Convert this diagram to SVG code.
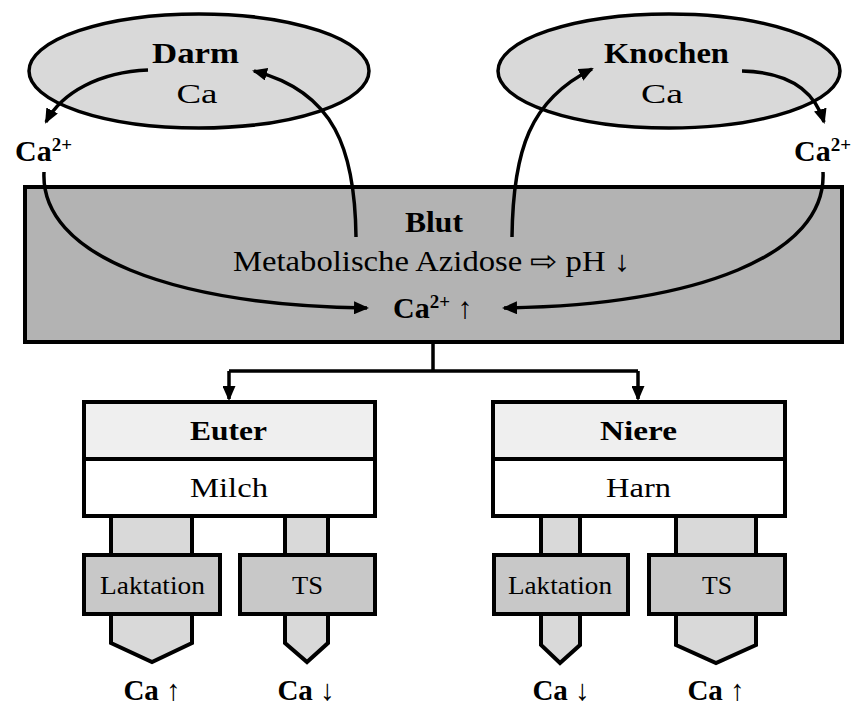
<svg xmlns="http://www.w3.org/2000/svg" width="857" height="705" viewBox="0 0 857 705">
<style>
text{font-family:"Liberation Serif",Tinos,"Times New Roman",Times,serif;fill:#000}
.b{font-weight:bold}
.c{text-anchor:middle}
.ell{fill:#d9d9d9;stroke:#000;stroke-width:3.5}
.box{stroke:#000;stroke-width:4}
.stem{fill:#d9d9d9;stroke:#000;stroke-width:4;stroke-linejoin:miter}
.lab{fill:#c8c8c8;stroke:#000;stroke-width:4}
.con{fill:none;stroke:#000;stroke-width:3.5}
.tree{fill:none;stroke:#000;stroke-width:3.5}
</style>
<defs>
<marker id="ah" markerUnits="userSpaceOnUse" markerWidth="15" markerHeight="13" refX="13" refY="6.5" orient="auto" viewBox="0 0 15 13">
<path d="M0,0 L15,6.5 L0,13 z" fill="#000"/>
</marker>
</defs>

<g id="darm">
<ellipse class="ell" cx="199" cy="71" rx="170" ry="57"/>
<text class="b c" x="195.5" y="63" font-size="30" textLength="87" lengthAdjust="spacingAndGlyphs">Darm</text>
<text class="c" x="197" y="103" font-size="28" textLength="41" lengthAdjust="spacingAndGlyphs">Ca</text>
</g>
<g id="knochen">
<ellipse class="ell" cx="669" cy="71" rx="171" ry="57"/>
<text class="b c" x="666.5" y="63" font-size="30" textLength="125" lengthAdjust="spacingAndGlyphs">Knochen</text>
<text class="c" x="662" y="103" font-size="28" textLength="42" lengthAdjust="spacingAndGlyphs">Ca</text>
</g>
<g id="ca-left">
<text class="b" x="15" y="161" font-size="30">Ca<tspan font-size="19" dy="-10">2+</tspan></text>
</g>
<g id="ca-right">
<text class="b" x="794" y="161" font-size="30">Ca<tspan font-size="19" dy="-10">2+</tspan></text>
</g>

<g id="blut">
<rect class="box" x="25" y="187" width="817" height="155" fill="#b3b3b3"/>
<text class="b c" x="434" y="232" font-size="30" textLength="58" lengthAdjust="spacingAndGlyphs">Blut</text>
<text class="c" x="431.5" y="271" font-size="29" textLength="397" lengthAdjust="spacingAndGlyphs">Metabolische Azidose ⇨ pH ↓</text>
<text x="393" y="318" font-size="30"><tspan class="b">Ca</tspan><tspan class="b" font-size="19" dy="-10">2+</tspan><tspan dy="10"> ↑</tspan></text>
</g>

<g id="euter">
<path class="stem" d="M111,516 V643 L152,662 L192,643 V516 Z"/>
<path class="stem" d="M285,516 V643 L307,662 L328,643 V516 Z"/>
<rect class="box" x="84" y="402" width="291" height="57" fill="#efefef"/>
<rect class="box" x="84" y="459" width="291" height="57" fill="#fff"/>
<text class="b c" x="228.5" y="440" font-size="28" textLength="77" lengthAdjust="spacingAndGlyphs">Euter</text>
<text class="c" x="229" y="497" font-size="28" textLength="78" lengthAdjust="spacingAndGlyphs">Milch</text>
</g>
<g id="euter-laktation">
<rect class="lab" x="84" y="555" width="136" height="59"/>
<text class="c" x="152.5" y="594" font-size="25" textLength="105" lengthAdjust="spacingAndGlyphs">Laktation</text>
<text class="c" x="152" y="700" font-size="29"><tspan class="b">Ca</tspan> ↑</text>
</g>
<g id="euter-ts">
<rect class="lab" x="240" y="555" width="135" height="59"/>
<text class="c" x="307.5" y="594" font-size="25" textLength="31" lengthAdjust="spacingAndGlyphs">TS</text>
<text class="c" x="306" y="700" font-size="29"><tspan class="b">Ca</tspan> ↓</text>
</g>

<g id="niere">
<path class="stem" d="M541,516 V645 L560,663 L580,645 V516 Z"/>
<path class="stem" d="M676,516 V645 L716,663 L756,645 V516 Z"/>
<rect class="box" x="493" y="402" width="292" height="57" fill="#efefef"/>
<rect class="box" x="493" y="459" width="292" height="57" fill="#fff"/>
<text class="b c" x="638.5" y="440" font-size="28" textLength="77" lengthAdjust="spacingAndGlyphs">Niere</text>
<text class="c" x="638.5" y="497" font-size="28" textLength="65" lengthAdjust="spacingAndGlyphs">Harn</text>
</g>
<g id="niere-laktation">
<rect class="lab" x="494" y="555" width="134" height="59"/>
<text class="c" x="560" y="594" font-size="25" textLength="104" lengthAdjust="spacingAndGlyphs">Laktation</text>
<text class="c" x="561" y="700" font-size="29"><tspan class="b">Ca</tspan> ↓</text>
</g>
<g id="niere-ts">
<rect class="lab" x="649" y="555" width="136" height="59"/>
<text class="c" x="717" y="594" font-size="25" textLength="30" lengthAdjust="spacingAndGlyphs">TS</text>
<text class="c" x="716" y="700" font-size="29"><tspan class="b">Ca</tspan> ↑</text>
</g>

<g id="connectors">
<path class="con" d="M148,70 C100,72 62,92 46,122" marker-end="url(#ah)"/>
<path class="con" d="M356,237 C355,150 335,92 254,71" marker-end="url(#ah)"/>
<path class="con" d="M512,237 C513,150 530,100 592,69" marker-end="url(#ah)"/>
<path class="con" d="M742,71 C790,72 815,92 824,122" marker-end="url(#ah)"/>
<path class="con" d="M44,172 C40,255 170,305 367,308" marker-end="url(#ah)"/>
<path class="con" d="M823,172 C827,255 698,305 504,308" marker-end="url(#ah)"/>
<path class="tree" d="M433,342 V371 M229,371 H638"/>
<path class="tree" d="M229,371 V399" marker-end="url(#ah)"/>
<path class="tree" d="M638,371 V399" marker-end="url(#ah)"/>
</g>
</svg>
